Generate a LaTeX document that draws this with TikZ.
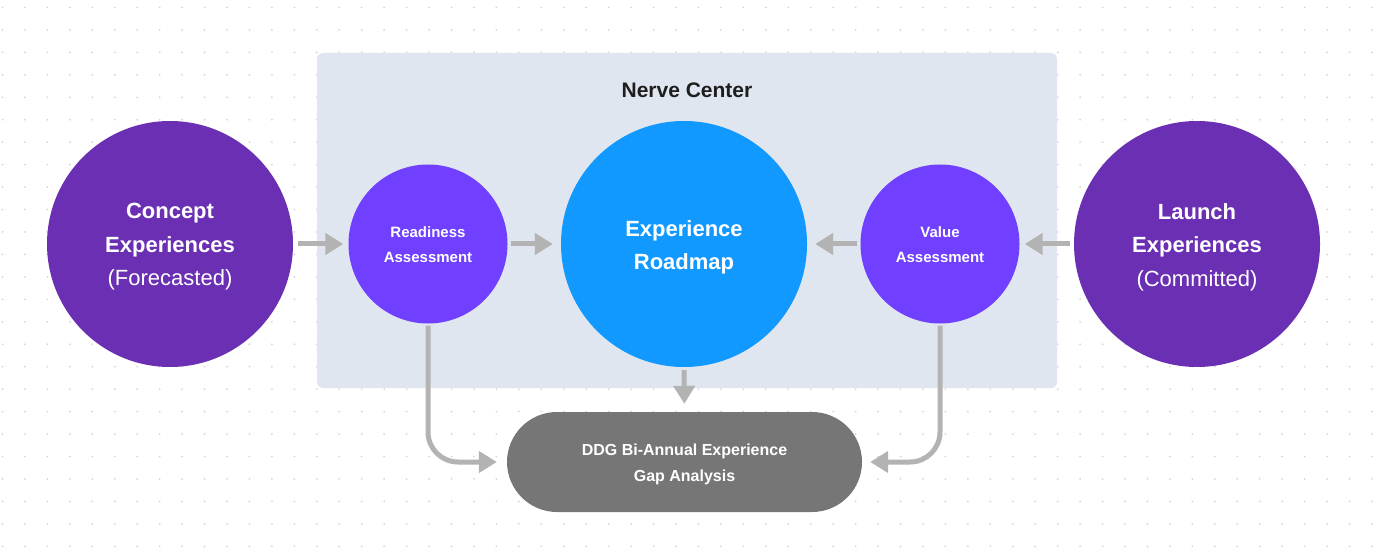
\documentclass[tikz,border=0pt]{standalone}
\usepackage{fontspec}
\setmainfont{Liberation Sans}
\usetikzlibrary{arrows.meta}
\definecolor{bigpurple}{HTML}{6A2FB2}
\definecolor{smallpurple}{HTML}{703FFF}
\definecolor{roadblue}{HTML}{1299FF}
\definecolor{gapgray}{HTML}{767676}
\definecolor{arrowgray}{HTML}{B3B3B3}
\definecolor{ncfill}{HTML}{E0E6EF}
\definecolor{dotgray}{HTML}{D6D6D6}
\definecolor{titlecol}{HTML}{1E1E1E}
\tikzset{
  bigcirc/.style={circle, fill=bigpurple, minimum size=246pt, inner sep=0pt},
  bigtext/.style={text=white, align=center, font=\fontsize{22}{33.5}\selectfont, yshift=-3pt},
  smallcirc/.style={circle, fill=smallpurple, minimum size=159pt, inner sep=0pt},
  smalltext/.style={text=white, align=center, font=\bfseries\fontsize{15}{25}\selectfont, yshift=-1pt},
  roadcirc/.style={circle, fill=roadblue, minimum size=246pt, inner sep=0pt},
  roadtext/.style={text=white, align=center, font=\bfseries\fontsize{22}{33}\selectfont, yshift=-3pt},
  gapbox/.style={rectangle, rounded corners=50pt, fill=gapgray, minimum width=355pt, minimum height=100pt, inner sep=0pt},
  gaptext/.style={text=white, align=center, font=\bfseries\fontsize{16}{26}\selectfont, yshift=-2pt},
  conn/.style={draw=arrowgray, line width=5pt, -{Triangle[length=18pt,width=21pt]}},
}
\begin{document}
\begin{tikzpicture}[x=1pt,y=-1pt]
\useasboundingbox (0,0) rectangle (1383,553);
\fill[white] (0,0) rectangle (1383,553);
\foreach \i in {0,...,61} {
  \foreach \j in {0,...,24} {
    \fill[dotgray] (2.5+22.45*\i, 7.5+22.45*\j) circle (1pt);
  }
}
\node[rectangle, rounded corners=6pt, fill=ncfill, minimum width=740pt, minimum height=335pt, inner sep=0pt] (nc) at (687,220.5) {};
\node[text=titlecol, font=\bfseries\fontsize{21}{25}\selectfont] (nctitle) at (687,90) {Nerve Center};

\node[bigcirc, label={[bigtext]center:\textbf{Concept}\\\textbf{Experiences}\\(Forecasted)}] (concept) at (170,244) {};
\node[bigcirc, label={[bigtext]center:\textbf{Launch}\\\textbf{Experiences}\\(Committed)}] (launch) at (1197,244) {};
\node[smallcirc, label={[smalltext]center:Readiness\\Assessment}] (ready) at (428,244) {};
\node[smallcirc, label={[smalltext]center:Value\\Assessment}] (value) at (940,244) {};
\node[roadcirc, label={[roadtext]center:Experience\\Roadmap}] (road) at (684,244) {};
\node[gapbox, label={[gaptext]center:DDG Bi-Annual Experience\\Gap Analysis}] (gap) at (684.5,462) {};

\draw[conn, shorten <=5pt, shorten >=5pt] (concept.east) -- (ready.west);
\draw[conn, shorten <=3pt, shorten >=8pt] (ready.east) -- (road.west);
\draw[conn, shorten <=3pt, shorten >=8pt] (value.west) -- (road.east);
\draw[conn, shorten <=4pt, shorten >=5pt] (launch.west) -- (value.east);
\draw[conn, shorten <=3pt, shorten >=8pt] (road.south) -- (gap.north);
\draw[conn, rounded corners=30pt, shorten <=2pt, shorten >=10pt] (ready.south) |- (gap.west);
\draw[conn, rounded corners=30pt, shorten <=2pt, shorten >=8pt] (value.south) |- (gap.east);
\end{tikzpicture}
\end{document}
